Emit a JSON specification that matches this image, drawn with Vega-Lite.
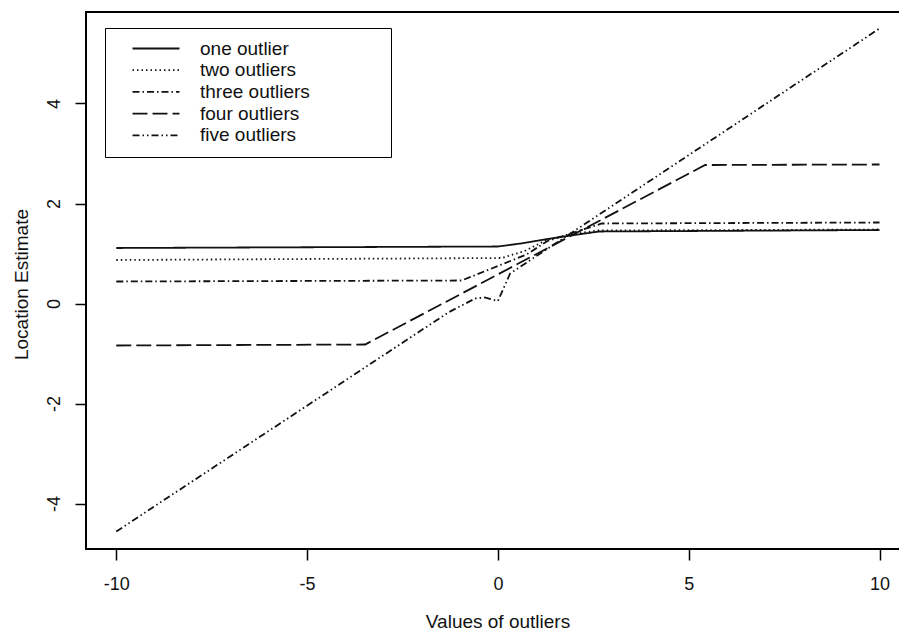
{
  "$schema": "https://vega.github.io/schema/vega-lite/v6.json",
  "width": 815,
  "height": 537,
  "autosize": {"type": "none"},
  "padding": {"left": 86, "top": 12, "right": 0, "bottom": 83},
  "background": "white",
  "config": {
    "font": "Liberation Sans",
    "view": {"stroke": "#000", "strokeWidth": 2},
    "axis": {
      "domain": false,
      "grid": false,
      "tickColor": "#000",
      "tickWidth": 1.5,
      "tickSize": 11,
      "labelColor": "#111",
      "titleColor": "#111",
      "labelFont": "Liberation Sans",
      "titleFont": "Liberation Sans",
      "labelFontSize": 18,
      "titleFontSize": 19,
      "titleFontWeight": "normal",
      "labelExpr": "'' + datum.value"
    }
  },
  "data": {
    "values": [
      {"series": "one outlier", "x": -10, "y": 1.11},
      {"series": "one outlier", "x": 0, "y": 1.14},
      {"series": "one outlier", "x": 0.6, "y": 1.2},
      {"series": "one outlier", "x": 1.3, "y": 1.29},
      {"series": "one outlier", "x": 2.0, "y": 1.37},
      {"series": "one outlier", "x": 2.65, "y": 1.44},
      {"series": "one outlier", "x": 10, "y": 1.47},
      {"series": "two outliers", "x": -10, "y": 0.87},
      {"series": "two outliers", "x": 0.1, "y": 0.91},
      {"series": "two outliers", "x": 0.7, "y": 1.05},
      {"series": "two outliers", "x": 1.3, "y": 1.28},
      {"series": "two outliers", "x": 2.0, "y": 1.39},
      {"series": "two outliers", "x": 2.6, "y": 1.46},
      {"series": "two outliers", "x": 10, "y": 1.48},
      {"series": "three outliers", "x": -10, "y": 0.44},
      {"series": "three outliers", "x": -0.95, "y": 0.46},
      {"series": "three outliers", "x": 0.75, "y": 0.98},
      {"series": "three outliers", "x": 1.3, "y": 1.25},
      {"series": "three outliers", "x": 2.72, "y": 1.6},
      {"series": "three outliers", "x": 10, "y": 1.62},
      {"series": "four outliers", "x": -10, "y": -0.84},
      {"series": "four outliers", "x": -3.48, "y": -0.82},
      {"series": "four outliers", "x": 5.43, "y": 2.77},
      {"series": "four outliers", "x": 10, "y": 2.78},
      {"series": "five outliers", "x": -10, "y": -4.56},
      {"series": "five outliers", "x": -1.3, "y": -0.18},
      {"series": "five outliers", "x": -0.6, "y": 0.1},
      {"series": "five outliers", "x": -0.35, "y": 0.12},
      {"series": "five outliers", "x": 0.0, "y": 0.05},
      {"series": "five outliers", "x": 0.32, "y": 0.6},
      {"series": "five outliers", "x": 10, "y": 5.5}
    ]
  },
  "mark": {"type": "line", "color": "#111", "strokeWidth": 1.8},
  "encoding": {
    "x": {
      "field": "x",
      "type": "quantitative",
      "scale": {"domain": [-10.794, 10.563], "nice": false, "zero": false},
      "axis": {
        "values": [-10, -5, 0, 5, 10],
        "title": "Values of outliers",
        "labelPadding": 15,
        "titleX": 411.5,
        "titleY": 78,
        "titleAlign": "center",
        "titleBaseline": "alphabetic"
      }
    },
    "y": {
      "field": "y",
      "type": "quantitative",
      "scale": {"domain": [-4.91, 5.83], "nice": false, "zero": false},
      "axis": {
        "values": [-4, -2, 0, 2, 4],
        "title": "Location Estimate",
        "labelAngle": 270,
        "labelAlign": "center",
        "labelBaseline": "bottom",
        "labelPadding": 12,
        "titleAngle": 270,
        "titleX": -59,
        "titleY": 272,
        "titleAlign": "center",
        "titleBaseline": "alphabetic"
      }
    },
    "strokeDash": {
      "field": "series",
      "type": "nominal",
      "scale": {
        "domain": ["one outlier", "two outliers", "three outliers", "four outliers", "five outliers"],
        "range": [[1, 0], [1.5, 3], [7, 3, 1.5, 3], [15, 5], [7, 3, 1.5, 3, 1.5, 3]]
      },
      "legend": {
        "title": null,
        "orient": "none",
        "legendX": 19,
        "legendY": 16,
        "padding": 11,
        "symbolType": "M-4.7,0L4.7,0",
        "symbolSize": 100,
        "symbolOffset": 30.5,
        "symbolStrokeWidth": 1.8,
        "symbolStrokeColor": "#111",
        "labelFont": "Liberation Sans",
        "labelFontSize": 19,
        "labelColor": "#111",
        "labelOffset": 34.5,
        "labelLimit": 400,
        "labelExpr": "datum.label + '\u2800\u2800\u2800\u2800\u2800'",
        "rowPadding": 1.7,
        "strokeColor": "#000",
        "fillColor": "white"
      }
    }
  }
}
